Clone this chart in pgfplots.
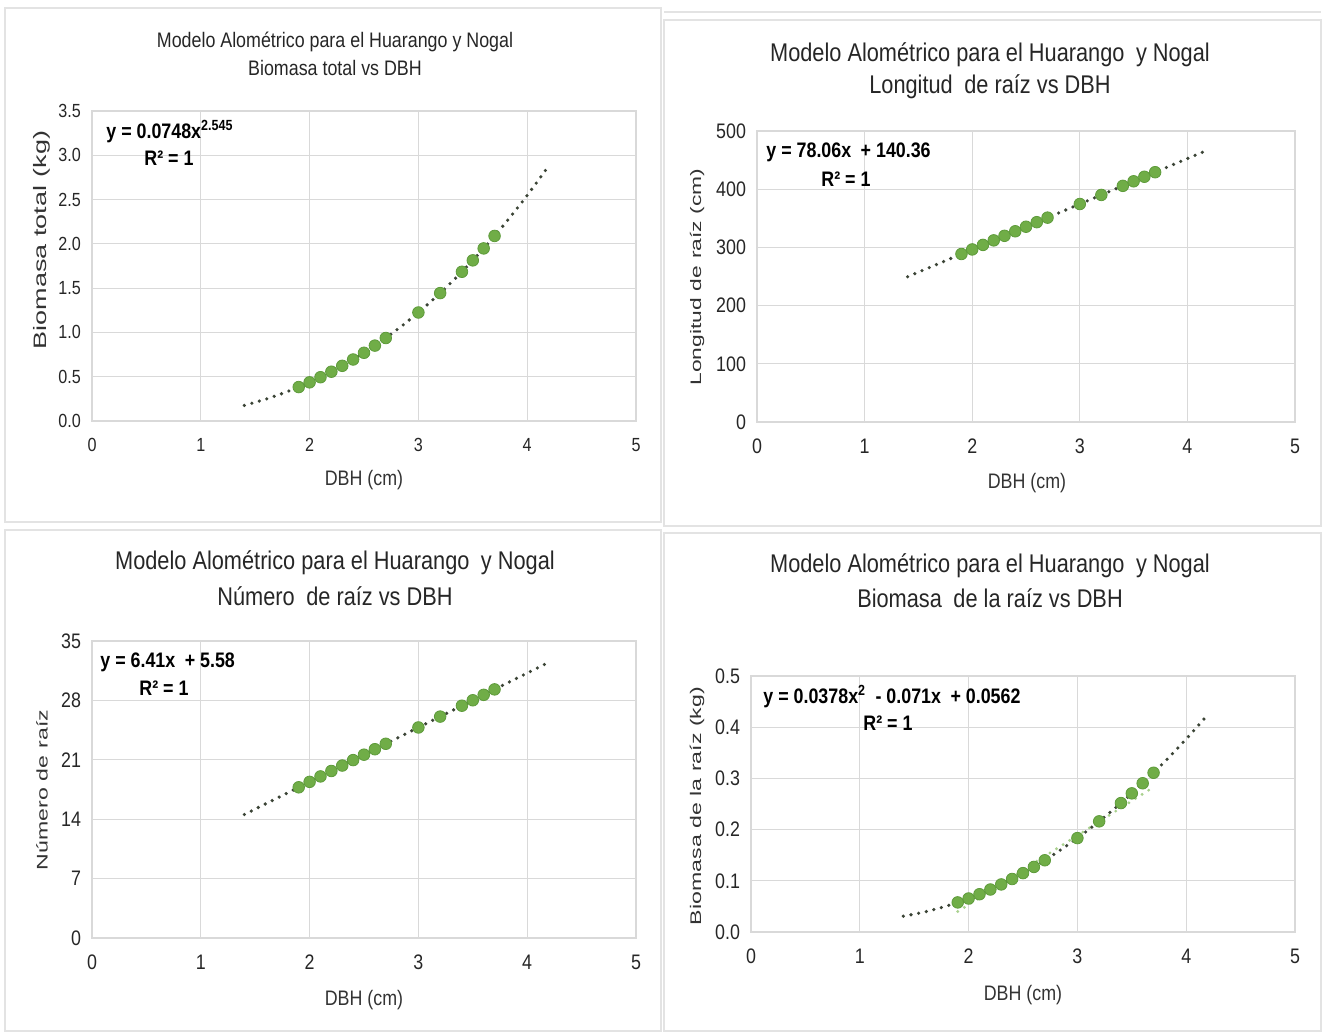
\documentclass[border=0pt]{standalone}
\usepackage{fontspec}
\setmainfont{Liberation Sans}
\newfontfamily\narrow[FakeStretch=0.85]{Liberation Sans}
\newfontfamily\wide[FakeStretch=1.5]{Liberation Sans}
\usepackage{pgfplots}
\pgfplotsset{compat=1.18}
\definecolor{mk}{HTML}{70AD47}
\definecolor{mkedge}{HTML}{5E9B3B}
\definecolor{tl}{HTML}{3B4436}
\definecolor{gl}{HTML}{D9D9D9}
\definecolor{lt}{HTML}{A9D18E}
\definecolor{bd}{HTML}{E3E3E3}
\pgfplotsset{
  panel/.style={
    scale only axis, anchor=south west,
    xmin=0, xmax=5, xtick={0,1,2,3,4,5},
    grid=major, major grid style={gl, line width=0.6pt},
    axis line style={gl, line width=0.6pt},
    major tick length=0pt,
    clip=false,
    /pgf/number format/assume math mode=true,
    ticklabel style={font=\narrow\fontsize{10.5}{12}\selectfont, text=black!85},
    xticklabel style={yshift=-5pt},
    yticklabel style={xshift=-2pt},
  },
  pts/.style={only marks, mark=*, mark size=2.9pt, mark options={fill=mk, draw=mkedge, line width=0.4pt}},
  trend/.style={no marks, smooth, tl, line width=1.8pt, line cap=round, dash pattern=on 0pt off 3.9pt},
}
\newcommand{\gapsp}{\hspace{0.45em}}
\begin{document}
\begin{tikzpicture}
\useasboundingbox (0,0) rectangle (662.5pt,516pt);
% panel frames
\draw[bd, line width=0.6pt] (2.5pt,512pt) rectangle (330.5pt,255pt);
\draw[bd, line width=0.6pt] (332pt,506pt) rectangle (660.5pt,253pt);
\draw[bd, line width=0.6pt] (332pt,510pt) -- (660.5pt,510pt);
\draw[bd, line width=0.6pt] (2.5pt,251pt) rectangle (330.5pt,0.5pt);
\draw[bd, line width=0.6pt] (332pt,249.5pt) rectangle (660.5pt,0.5pt);

% ---------------- Panel 1 ----------------
\begin{axis}[panel, at={(46pt,305.5pt)}, width=272pt, height=155pt,
  ymin=0, ymax=3.5, ytick={0,0.5,1,1.5,2,2.5,3,3.5},
  yticklabel style={/pgf/number format/.cd, fixed, fixed zerofill, precision=1},
  ticklabel style={font=\narrow\fontsize{9.5}{11}\selectfont}]
\addplot[pts] coordinates {(1.9,0.3831)(2.0,0.4365)(2.1,0.4943)(2.2,0.5564)(2.3,0.6230)(2.4,0.6943)(2.5,0.7703)(2.6,0.8511)(2.7,0.9369)(3.0,1.2251)(3.2,1.4440)(3.4,1.6847)(3.5,1.8136)(3.6,1.9484)(3.7,2.0892)};
\addplot[trend] coordinates {(1.4,0.1761)(1.6,0.2474)(1.8,0.3339)(2.0,0.4365)(2.2,0.5564)(2.4,0.6943)(2.6,0.8511)(2.8,1.0278)(3.0,1.2251)(3.2,1.4440)(3.4,1.6847)(3.6,1.9484)(3.8,2.2360)(4.0,2.5476)(4.2,2.8844)};
\end{axis}

% ---------------- Panel 2 ----------------
\begin{axis}[panel, at={(378.5pt,305pt)}, width=269pt, height=145.5pt,
  ymin=0, ymax=500, ytick={0,100,200,300,400,500}]
\addplot[pts] coordinates {(1.9,288.67)(2.0,296.48)(2.1,304.29)(2.2,312.09)(2.3,319.90)(2.4,327.70)(2.5,335.51)(2.6,343.32)(2.7,351.12)(3.0,374.54)(3.2,390.15)(3.4,405.76)(3.5,413.57)(3.6,421.38)(3.7,429.18)};
\addplot[trend] coordinates {(1.4,249.64)(4.2,468.21)};
\end{axis}

% ---------------- Panel 3 ----------------
\begin{axis}[panel, at={(46pt,47pt)}, width=272pt, height=148.5pt,
  ymin=0, ymax=35, ytick={0,7,14,21,28,35}]
\addplot[pts] coordinates {(1.9,17.759)(2.0,18.400)(2.1,19.041)(2.2,19.682)(2.3,20.323)(2.4,20.964)(2.5,21.605)(2.6,22.246)(2.7,22.887)(3.0,24.810)(3.2,26.092)(3.4,27.374)(3.5,28.015)(3.6,28.656)(3.7,29.297)};
\addplot[trend] coordinates {(1.4,14.554)(4.2,32.502)};
\end{axis}

% ---------------- Panel 4 ----------------
\begin{axis}[panel, at={(375.5pt,50pt)}, width=272pt, height=128pt,
  ymin=0, ymax=0.5, ytick={0,0.1,0.2,0.3,0.4,0.5},
  yticklabel style={/pgf/number format/.cd, fixed, fixed zerofill, precision=1}]
\addplot[no marks, lt, line width=1.6pt, line cap=round, dash pattern=on 0pt off 3.9pt] coordinates {(1.9,0.040)(3.7,0.283)};
\addplot[pts] coordinates {(1.9,0.0578)(2.0,0.0654)(2.1,0.0738)(2.2,0.0830)(2.3,0.0929)(2.4,0.1035)(2.5,0.1150)(2.6,0.1271)(2.7,0.1401)(3.0,0.1834)(3.2,0.2161)(3.4,0.2518)(3.5,0.2708)(3.6,0.2905)(3.7,0.3110)};
\addplot[trend] coordinates {(1.4,0.0309)(1.6,0.0394)(1.8,0.0509)(2.0,0.0654)(2.2,0.0830)(2.4,0.1035)(2.6,0.1271)(2.8,0.1538)(3.0,0.1834)(3.2,0.2161)(3.4,0.2518)(3.6,0.2905)(3.8,0.3322)(4.0,0.3770)(4.2,0.4248)};
\end{axis}

% ---------------- texts ----------------
\tikzset{ttl1/.style={font=\narrow\fontsize{10.5}{12}\selectfont, text=black!85},
         ttl/.style={font=\narrow\fontsize{12.8}{15}\selectfont, text=black!85},
         xl/.style={font=\narrow\fontsize{10.5}{12}\selectfont, text=black!80},
         yl/.style={text=black!80, rotate=90},
         eq/.style={font=\narrow\bfseries\fontsize{10.5}{12}\selectfont, text=black}}
% panel 1
\node[ttl1] at (167.5pt,495pt) {Modelo Alométrico para el Huarango y Nogal};
\node[ttl1] at (167.5pt,482pt) {Biomasa total vs DBH};
\node[xl] at (182pt,276pt) {DBH (cm)};
\node[yl, font=\wide\fontsize{9}{10}\selectfont] at (21pt,396pt) {Biomasa total\gapsp(kg)};
\node[eq, anchor=west, inner sep=0pt] at (53pt,450pt) {y = 0.0748x\textsuperscript{2.545}};
\node[eq] at (84.5pt,437pt) {R² = 1};
% panel 2
\node[ttl] at (495pt,488.5pt) {Modelo Alométrico para el Huarango\gapsp y Nogal};
\node[ttl] at (495pt,472.5pt) {Longitud\gapsp de raíz vs DBH};
\node[xl] at (513.5pt,274.5pt) {DBH (cm)};
\node[yl, font=\wide\fontsize{7.6}{9}\selectfont] at (348.5pt,377.5pt) {Longitud\gapsp de\gapsp raíz\gapsp(cm)};
\node[eq, anchor=west, inner sep=0pt] at (383pt,440pt) {y = 78.06x\gapsp + 140.36};
\node[eq] at (423pt,426.5pt) {R² = 1};
% panel 3
\node[ttl] at (167.5pt,234.5pt) {Modelo Alométrico para el Huarango\gapsp y Nogal};
\node[ttl] at (167.5pt,218pt) {Número\gapsp de raíz vs DBH};
\node[xl] at (182pt,16pt) {DBH (cm)};
\node[yl, font=\wide\fontsize{7.7}{9}\selectfont] at (21pt,121pt) {Número\gapsp de\gapsp raíz};
\node[eq, anchor=west, inner sep=0pt] at (50pt,185pt) {y = 6.41x\gapsp + 5.58};
\node[eq] at (82pt,172pt) {R² = 1};
% panel 4
\node[ttl] at (495pt,233pt) {Modelo Alométrico para el Huarango\gapsp y Nogal};
\node[ttl] at (495pt,217pt) {Biomasa\gapsp de la raíz vs DBH};
\node[xl] at (511.5pt,18.5pt) {DBH (cm)};
\node[yl, font=\wide\fontsize{7.7}{9}\selectfont] at (348.5pt,113pt) {Biomasa\gapsp de la raíz (kg)};
\node[eq, anchor=west, inner sep=0pt] at (381.5pt,167.5pt) {y = 0.0378x\textsuperscript{2}\gapsp - 0.071x\gapsp + 0.0562};
\node[eq] at (444pt,154.5pt) {R² = 1};
\end{tikzpicture}
\end{document}
